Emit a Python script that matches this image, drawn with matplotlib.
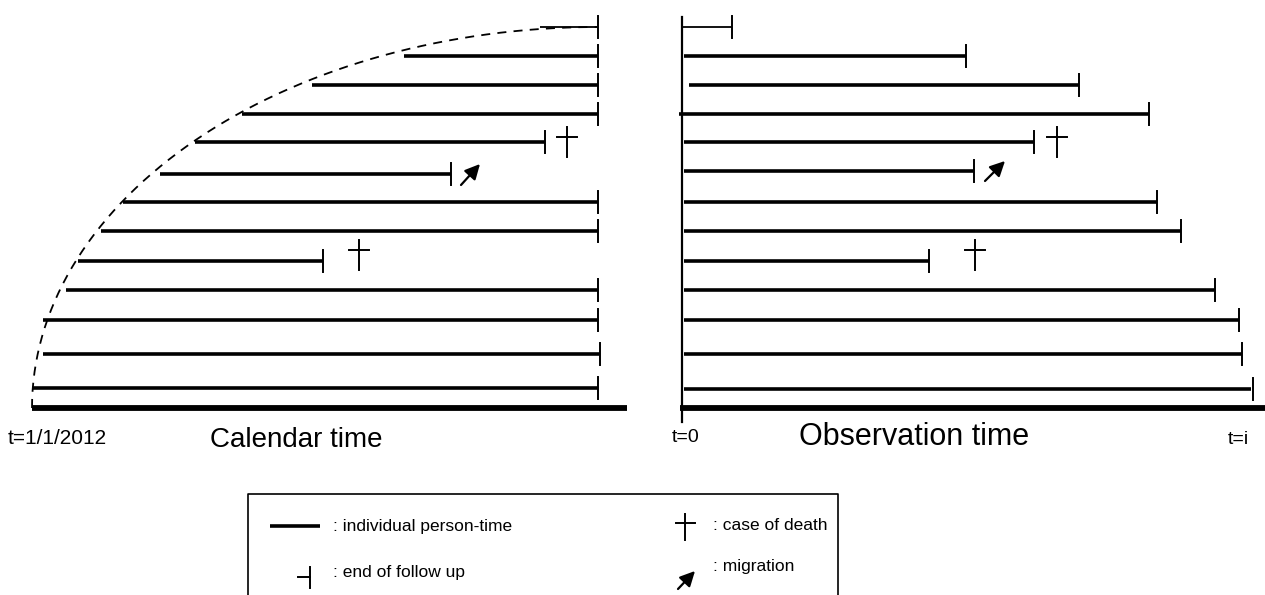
import numpy as np
import matplotlib
matplotlib.use("Agg")
import matplotlib.pyplot as plt

plt.rcParams['font.family'] = ['Liberation Sans', 'DejaVu Sans']

# filas (posición vertical) de cada persona
filas = [27, 56, 85, 114, 142, 174, 202, 231, 261, 290, 320, 354, 388]

# panel izquierdo: tiempo calendario
cal_inicio = [540, 404, 312, 242, 195, 160, 123, 101, 78, 66, 43, 43, 32]
cal_fin = [598, 598, 598, 598, 545, 451, 598, 598, 323, 598, 598, 600, 598]
cal_muertes = [(567, 142), (359, 255)]
cal_migra = [(461, 185, 480, 164)]

# panel derecho: tiempo de observación
obs_filas = [27, 56, 85, 114, 142, 171, 202, 231, 261, 290, 320, 354, 389]
obs_inicio = [682, 684, 689, 679, 684, 684, 684, 684, 684, 684, 684, 684, 684]
obs_fin = [732, 966, 1079, 1149, 1034, 974, 1157, 1181, 929, 1215, 1239, 1242, 1251]
obs_marca = [732, 966, 1079, 1149, 1034, 974, 1157, 1181, 929, 1215, 1239, 1242, 1253]
obs_muertes = [(1057, 142), (975, 255)]
obs_migra = [(985, 181, 1005, 161)]

fig = plt.figure(figsize=(12.65, 5.95), dpi=100)
ax = fig.add_axes([0, 0, 1, 1])
ax.set_xlim(0, 1265)
ax.set_ylim(595, 0)
ax.axis('off')


def cruz(x, y, h=30, w=20):
    ax.plot([x, x], [y - h / 2, y + h / 2], color='black', lw=1.4)
    ax.plot([x - w / 2, x + w / 2], [y - h * 0.17, y - h * 0.17], color='black', lw=1.4)


def flecha(x0, y0, x1, y1):
    ax.annotate('', xy=(x1, y1), xytext=(x0, y0),
                arrowprops=dict(arrowstyle='-|>,head_length=0.9,head_width=0.45',
                                color='black', lw=1.6, shrinkA=0, shrinkB=0))


# curva punteada (entrada en la cohorte)
t = np.linspace(0, np.pi / 2, 200)
ax.plot(598 - 566 * np.cos(t), 408 - 381 * np.sin(t), color='black', lw=1.3,
        ls=(0, (5, 4)))

for i, y in enumerate(filas):
    lw = 1.3 if i == 0 else 2.6
    ax.plot([cal_inicio[i], cal_fin[i]], [y, y], color='black', lw=lw, solid_capstyle='butt')
    ax.plot([cal_fin[i], cal_fin[i]], [y - 11, y + 11], color='black', lw=1.4)
for x, y in cal_muertes:
    cruz(x, y)
for m in cal_migra:
    flecha(*m)
ax.plot([32, 627], [408, 408], color='black', lw=4.2, solid_capstyle='butt')

# panel derecho
ax.plot([682, 682], [17, 422], color='black', lw=1.6)
for i, y in enumerate(obs_filas):
    lw = 1.3 if i == 0 else 2.6
    ax.plot([obs_inicio[i], obs_fin[i]], [y, y], color='black', lw=lw, solid_capstyle='butt')
    ax.plot([obs_marca[i], obs_marca[i]], [y - 11, y + 11], color='black', lw=1.4)
for x, y in obs_muertes:
    cruz(x, y)
for m in obs_migra:
    flecha(*m)
ax.plot([680, 1265], [408, 408], color='black', lw=4.2, solid_capstyle='butt')

# textos de ejes
ax.text(8, 438, 't=1/1/2012', fontsize=15, va='center', ha='left')
ax.text(210, 440, 'Calendar time', fontsize=20, va='center', ha='left')
ax.text(672, 438, 't=0', fontsize=14, va='center', ha='left')
ax.text(914, 437, 'Observation time', fontsize=22, va='center', ha='center')
ax.text(1228, 440, 't=i', fontsize=14, va='center', ha='left')

# leyenda
ax.plot([248, 248, 838, 838], [600, 494, 494, 600], color='black', lw=1.2)
ax.plot([270, 320], [526, 526], color='black', lw=2.6, solid_capstyle='butt')
ax.text(333, 526, ': individual person-time', fontsize=12.5, va='center')
ax.plot([298, 310], [577, 577], color='black', lw=1.4)
ax.plot([310, 310], [567, 588], color='black', lw=1.4)
ax.text(333, 572, ': end of follow up', fontsize=12.5, va='center')
cruz(685, 527, h=26, w=19)
ax.text(713, 526, ': case of death', fontsize=12.5, va='center')
flecha(678, 589, 695, 571)
ax.text(713, 567, ': migration', fontsize=12.5, va='center')

fig.savefig('out.png', dpi=100)
